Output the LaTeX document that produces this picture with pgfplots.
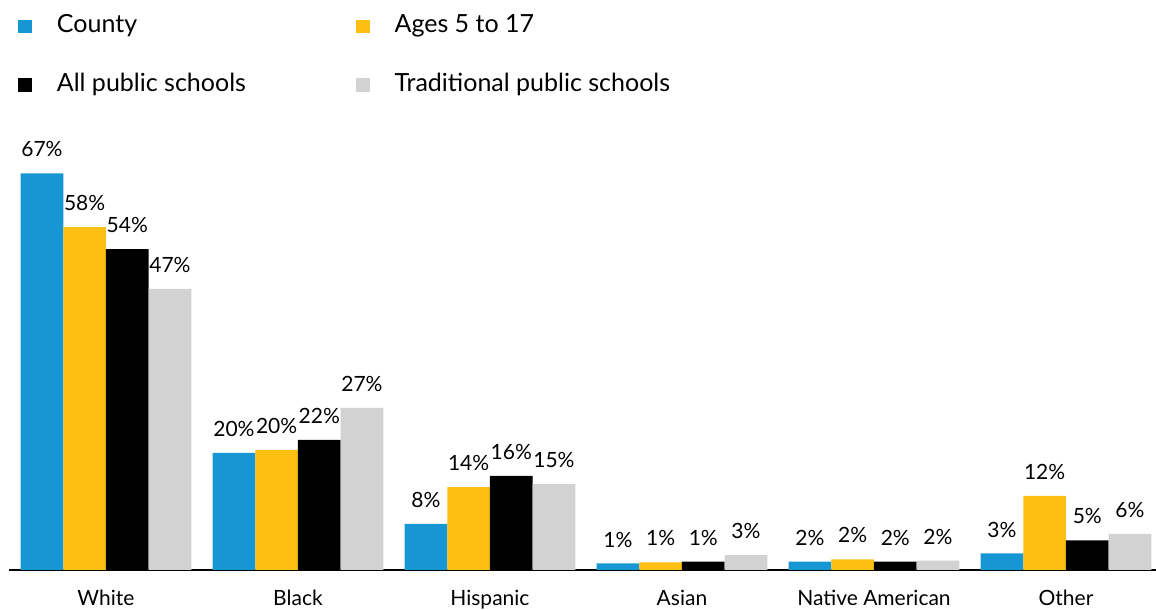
\documentclass[border=0pt]{standalone}
\usepackage{pgfplots}
\pgfplotsset{compat=1.18}
\usepackage{fontspec}
\setmainfont{Lato}
\definecolor{ublue}{HTML}{1696D2}
\definecolor{uyellow}{HTML}{FDBF11}
\definecolor{ugray}{HTML}{D2D2D2}
\begin{document}
\begin{tikzpicture}
\path[use as bounding box] (0,0) rectangle (578pt,305pt);
\begin{axis}[
  at={(4.5pt,20pt)}, anchor=south west,
  x=96pt, y=2.96pt,
  xmin=-0.505, xmax=5.47, ymin=0, ymax=75,
  ybar=0pt, bar width=21.33pt,
  axis x line*=bottom, axis y line=none,
  x axis line style={line width=1pt, black, -},
  xtick={0,1,2,3,4,5},
  xticklabels={White,Black,Hispanic,Asian,Native American,Other},
  major tick length=0pt,
  xticklabel style={font=\fontsize{10.5}{12}\selectfont, inner sep=0pt, text height=8pt, text depth=2pt, yshift=-9.5pt},
  ytick=\empty,
  nodes near coords,
  point meta=explicit symbolic,
  nodes near coords style={font=\fontsize{10.5}{12}\selectfont, inner sep=0pt, text depth=0pt, anchor=south, yshift=8pt, black},
  legend columns=2,
  legend style={at={(0.0078,1.252)}, anchor=north west, draw=none, fill=none, inner sep=0pt,
    font=\fontsize{12.5}{14}\selectfont, row sep=17.3pt,
    nodes={inner sep=0pt, text height=9pt, text depth=3pt},
    /tikz/every odd column/.append style={column sep=12.5pt},
    /tikz/every even column/.append style={column sep=55pt}},
  legend cell align=left,
]
\addplot[fill=ublue, draw=none, legend image code/.code={\fill[ublue] (0pt,-3.4pt) rectangle (6.8pt,3.4pt);}]
  coordinates {(0,67.0) [67\%] (1,19.8) [20\%] (2,7.8) [8\%] (3,1.1) [1\%] (4,1.4) [2\%] (5,2.8) [3\%]};
\addplot[fill=uyellow, draw=none, legend image code/.code={\fill[uyellow] (0pt,-3.4pt) rectangle (6.8pt,3.4pt);}]
  coordinates {(0,57.9) [58\%] (1,20.3) [20\%] (2,14.0) [14\%] (3,1.3) [1\%] (4,1.8) [2\%] (5,12.5) [12\%]};
\addplot[fill=black, draw=none, legend image code/.code={\fill[black] (0pt,-3.4pt) rectangle (6.8pt,3.4pt);}]
  coordinates {(0,54.2) [54\%] (1,22.0) [22\%] (2,15.9) [16\%] (3,1.4) [1\%] (4,1.4) [2\%] (5,5.0) [5\%]};
\addplot[fill=ugray, draw=none, legend image code/.code={\fill[ugray] (0pt,-3.4pt) rectangle (6.8pt,3.4pt);}]
  coordinates {(0,47.5) [47\%] (1,27.4) [27\%] (2,14.5) [15\%] (3,2.5) [3\%] (4,1.6) [2\%] (5,6.1) [6\%]};
\legend{County, Ages 5 to 17, All public schools, Traditional public schools}
\end{axis}
\end{tikzpicture}
\end{document}
